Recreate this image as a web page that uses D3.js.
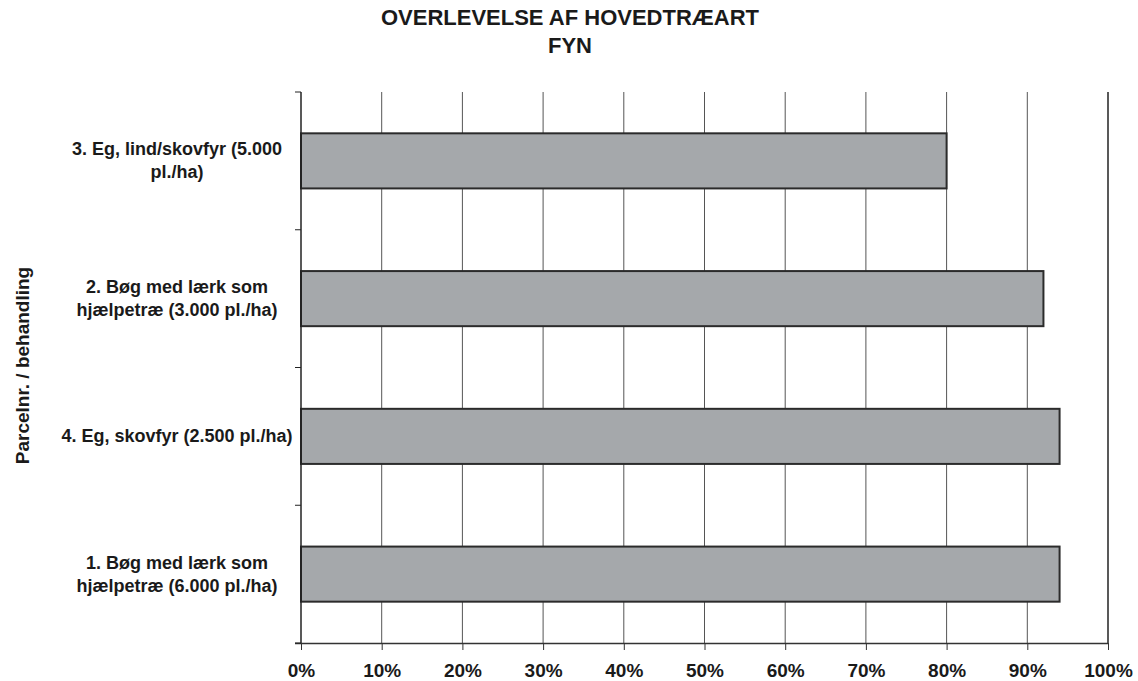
<!DOCTYPE html>
<html>
<head>
<meta charset="utf-8">
<script src="https://cdn.jsdelivr.net/npm/d3@7"></script>
<style>
  body { margin: 0; background: #fff; }
  svg { display: block; font-family: Arial, "Liberation Sans", sans-serif; }
</style>
</head>
<body>
<svg id="chart" width="1138" height="681"></svg>
<script>
// chart data, top to bottom as drawn
const categories = [
  "3. Eg, lind/skovfyr (5.000 pl./ha)",
  "2. Bøg med lærk som hjælpetræ (3.000 pl./ha)",
  "4. Eg, skovfyr (2.500 pl./ha)",
  "1. Bøg med lærk som hjælpetræ (6.000 pl./ha)"
];
const survival = [80, 92, 94, 94];
const xTicks = [0, 10, 20, 30, 40, 50, 60, 70, 80, 90, 100];
const titleLines = ["OVERLEVELSE AF HOVEDTRÆART", "FYN"];
const yAxisTitle = "Parcelnr. / behandling";

const svg = d3.select('#chart');
const plotLeft = 301, plotRight = 1108, plotTop = 92, plotBottom = 643;

const x = d3.scaleLinear().domain([0, 100]).range([plotLeft, plotRight]);
const y = d3.scaleBand()
  .domain(categories)
  .range([plotTop, plotBottom])
  .paddingInner(0.6)
  .paddingOuter(0.3);

// title
svg.append('g')
  .selectAll('text')
  .data(titleLines)
  .join('text')
  .attr('x', 570)
  .attr('y', (d, i) => 25 + i * 28)
  .attr('text-anchor', 'middle')
  .attr('font-size', 22)
  .attr('font-weight', 'bold')
  .attr('fill', '#1a1a1a')
  .text(d => d);

// vertical gridlines
svg.append('g')
  .selectAll('line')
  .data(xTicks.filter(t => t > 0))
  .join('line')
  .attr('x1', d => x(d)).attr('x2', d => x(d))
  .attr('y1', plotTop).attr('y2', plotBottom)
  .attr('stroke', d => d === 100 ? '#222' : '#555')
  .attr('stroke-width', d => d === 100 ? 1.5 : 1);

// bars
svg.append('g')
  .selectAll('rect')
  .data(categories)
  .join('rect')
  .attr('x', x(0))
  .attr('y', d => y(d))
  .attr('width', (d, i) => x(survival[i]) - x(0))
  .attr('height', y.bandwidth())
  .attr('fill', '#a5a8ab')
  .attr('stroke', '#2b2b2b')
  .attr('stroke-width', 2);

// bottom axis
const xAxis = d3.axisBottom(x)
  .tickValues(xTicks)
  .tickSize(7)
  .tickPadding(14)
  .tickFormat(d => d + '%');

const gx = svg.append('g')
  .attr('transform', `translate(0,${plotBottom})`)
  .call(xAxis);
gx.select('.domain').attr('stroke', '#333').attr('stroke-width', 1.5)
  .attr('d', `M${plotLeft - 6},0.5H${plotRight}`);
gx.selectAll('.tick line').attr('stroke', '#333');
gx.selectAll('.tick text')
  .attr('font-size', 19)
  .attr('font-weight', 'bold')
  .attr('font-family', 'Arial, "Liberation Sans", sans-serif')
  .attr('fill', '#1a1a1a');

// left axis: ticks at band boundaries
const boundaries = d3.range(categories.length + 1)
  .map(i => plotTop + i * (plotBottom - plotTop) / categories.length);
svg.append('line')
  .attr('x1', plotLeft).attr('x2', plotLeft)
  .attr('y1', plotTop).attr('y2', plotBottom)
  .attr('stroke', '#222').attr('stroke-width', 1.5);
svg.append('g')
  .selectAll('line')
  .data(boundaries)
  .join('line')
  .attr('x1', plotLeft - 6).attr('x2', plotLeft)
  .attr('y1', d => d).attr('y2', d => d)
  .attr('stroke', '#222');

// category labels, wrapped
function wrapWords(text, maxWidth, measure) {
  const words = text.split(' ');
  const lines = [];
  let cur = '';
  words.forEach(w => {
    const test = cur ? cur + ' ' + w : w;
    if (cur && measure(test) > maxWidth) {
      lines.push(cur);
      cur = w;
    } else {
      cur = test;
    }
  });
  if (cur) lines.push(cur);
  return lines;
}

const labelSize = 18;
const probe = svg.append('text')
  .attr('font-size', labelSize).attr('font-weight', 'bold');
const measure = s => { probe.text(s); return probe.node().getComputedTextLength(); };

const lineH = 23;
const labels = svg.append('g');
categories.forEach(cat => {
  const lines = wrapWords(cat, 236, measure);
  const cy = y(cat) + y.bandwidth() / 2;
  const t = labels.append('text')
    .attr('text-anchor', 'middle')
    .attr('font-size', labelSize)
    .attr('font-weight', 'bold')
    .attr('fill', '#1a1a1a');
  lines.forEach((ln, i) => {
    t.append('tspan')
      .attr('x', 177)
      .attr('y', cy + 6 + (i - (lines.length - 1) / 2) * lineH)
      .text(ln);
  });
});
probe.remove();

// y axis title
svg.append('text')
  .attr('transform', `translate(29,${(plotTop + plotBottom) / 2 - 2}) rotate(-90)`)
  .attr('text-anchor', 'middle')
  .attr('font-size', 19)
  .attr('font-weight', 'bold')
  .attr('fill', '#1a1a1a')
  .text(yAxisTitle);
</script>
</body>
</html>
